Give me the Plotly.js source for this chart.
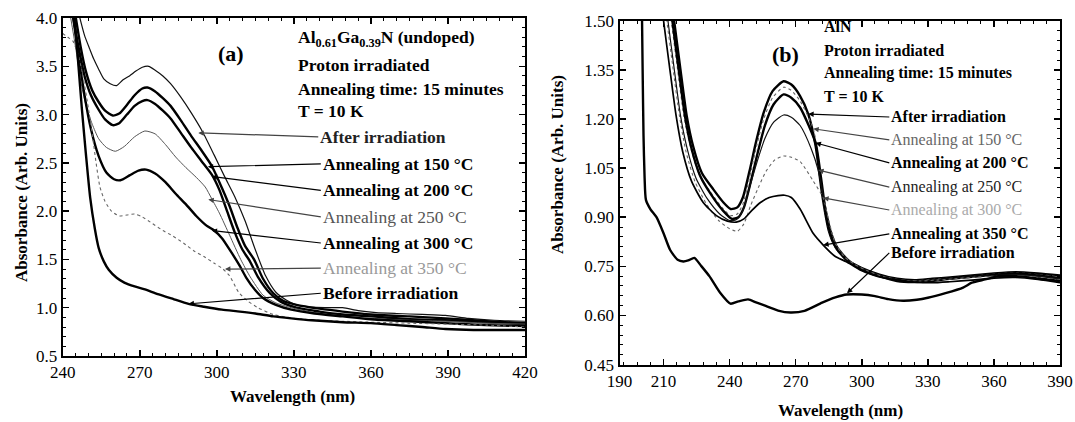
<!DOCTYPE html>
<html><head><meta charset="utf-8">
<script src="https://cdn.plot.ly/plotly-3.0.1.min.js"></script>
<style>body{margin:0;background:#fff}#chart{width:1075px;height:422px}</style>
</head><body><div id="chart"></div>
<script>
// ---------- Panel (a): Al0.61Ga0.39N ----------
const aAfterX = [246.5,248.5,250.5,252,254,256,258.5,261,263.5,266,268.5,271,273.5,276,279,282,286,290,294.5,299,303,307,311,315,319,323,327,331,336,342,349,355,362,370,380,389,398,408,420];
const aAfterY = [4.02,3.82,3.68,3.58,3.47,3.37,3.32,3.30,3.36,3.40,3.45,3.49,3.50,3.46,3.40,3.32,3.18,3.02,2.82,2.58,2.36,2.15,1.90,1.60,1.33,1.16,1.08,1.03,1.01,1.00,1.00,0.97,0.95,0.94,0.93,0.92,0.89,0.87,0.86];
const a150X = [245,247,249,251.5,254,256.5,259.5,262,265,268,271,273,276,279,282,286,290,294,298,302,305,308,311,314.5,318,322,326,331,340,349,360,375,389,405,420];
const a150Y = [4.02,3.70,3.45,3.25,3.13,3.04,2.99,3.01,3.10,3.20,3.27,3.28,3.24,3.17,3.09,2.94,2.78,2.63,2.47,2.24,2.05,1.83,1.64,1.50,1.30,1.15,1.07,1.03,0.99,0.96,0.93,0.91,0.89,0.86,0.84];
const a200X = [244,246,248.5,251,254,256.5,259.5,262,265,268,271,273,276,279,282,286,290,294,298,301,304,307,310,312.7,316,320.7,325,331,340,349,360,375,389,405,420];
const a200Y = [4.02,3.72,3.40,3.20,3.05,2.95,2.89,2.91,3.00,3.09,3.14,3.15,3.11,3.04,2.96,2.81,2.66,2.52,2.38,2.22,2.00,1.78,1.60,1.49,1.32,1.15,1.06,1.00,0.96,0.93,0.91,0.88,0.87,0.85,0.83];
const a250X = [243,245,247,249,251.5,254,257,260.5,264,268,272,276,280,284,288,292,295.5,298,301,305,309.3,313,318,323,329,338,349,360,375,389,405,420];
const a250Y = [4.02,3.70,3.35,3.10,2.90,2.75,2.66,2.62,2.67,2.77,2.83,2.80,2.69,2.56,2.45,2.35,2.25,2.13,1.98,1.75,1.50,1.32,1.13,1.05,1.00,0.95,0.91,0.89,0.87,0.86,0.84,0.83];
const a300X = [244,246,248.5,251,254,257,260,262.5,266,269.5,272.5,276,280,284,288,292,296,299,302,306,309,311.5,315,318,323,329,338,349,360,375,389,405,420];
const a300Y = [4.02,3.65,3.20,2.85,2.57,2.40,2.33,2.32,2.37,2.42,2.43,2.39,2.30,2.18,2.07,1.95,1.85,1.80,1.72,1.56,1.43,1.31,1.18,1.10,1.03,0.98,0.94,0.91,0.88,0.86,0.84,0.82,0.81];
const a350X = [240,242,244,246,247.5,249.5,251.5,253,254.5,256.5,259,262,265,268,271,275,279,283,287,291,295,299,302,305,308.5,312,316,322,330,340,349,360,375,390,405,420];
const a350Y = [3.84,3.80,3.76,3.62,3.45,3.15,2.80,2.50,2.25,2.10,2.00,1.95,1.96,1.97,1.94,1.87,1.80,1.74,1.67,1.59,1.53,1.46,1.41,1.33,1.16,1.07,1.00,0.93,0.89,0.87,0.86,0.85,0.84,0.83,0.82,0.80];
const aBeforeX = [244.5,246,247.5,249,250.7,252.5,254,256,258,261,264,268,272,277,282,289,295,302,309,315,322,329,337,349,360,370,380,389,400,410,420];
const aBeforeY = [4.02,3.55,3.05,2.60,2.14,1.82,1.62,1.48,1.39,1.31,1.26,1.22,1.19,1.14,1.10,1.04,1.01,0.98,0.96,0.94,0.91,0.89,0.87,0.85,0.84,0.82,0.80,0.78,0.77,0.77,0.77];

// ---------- Panel (b): AlN ----------
const bAfterX = [213.8,214.8,217.5,220.5,223.5,227.4,232.6,237.2,240.5,243.5,246,249,252,255.5,259.5,264.5,268,272,275.7,279,282,285,288,293,300,308,316,324,332,340,350,360,370,380,390];
const bAfterY = [1.56,1.50,1.36,1.21,1.115,1.035,0.985,0.945,0.925,0.93,0.96,1.04,1.13,1.22,1.285,1.315,1.305,1.27,1.215,1.12,0.97,0.86,0.81,0.77,0.745,0.725,0.712,0.708,0.712,0.716,0.722,0.728,0.732,0.728,0.722];
const b150X = [212.5,213.5,216.2,219.2,222.2,226.2,231.5,236.5,240.5,243.5,246,249,252,255.5,259.5,264.5,268,272,278,280.5,283,285.5,288,293,300,308,316,324,332,340,350,360,370,380,390];
const b150Y = [1.56,1.50,1.36,1.21,1.115,1.03,0.975,0.93,0.905,0.91,0.94,1.02,1.11,1.20,1.265,1.297,1.287,1.255,1.17,1.07,0.93,0.85,0.805,0.77,0.742,0.722,0.71,0.706,0.71,0.714,0.72,0.726,0.73,0.725,0.718];
const b200X = [213,214,216.7,219.7,222.7,226.7,232,237,241,244,246.5,249.5,252.5,256,260,264.5,268,272,279,281.5,284,286.5,289,294,300,308,316,324,332,340,350,360,370,380,390];
const b200Y = [1.56,1.50,1.36,1.21,1.11,1.025,0.965,0.92,0.895,0.90,0.93,1.005,1.09,1.18,1.245,1.275,1.265,1.235,1.127,1.02,0.90,0.835,0.80,0.765,0.74,0.72,0.705,0.702,0.706,0.712,0.718,0.724,0.728,0.722,0.714];
const b250X = [211,212,214.7,217.7,220.7,224.7,230,235.5,240,243,246,249,252.5,256,260,264.5,268,272,277,280.2,283,286,289,294,300,308,316,324,332,340,350,360,370,380,390];
const b250Y = [1.56,1.50,1.36,1.21,1.11,1.02,0.955,0.91,0.89,0.892,0.92,0.99,1.07,1.14,1.19,1.212,1.205,1.18,1.11,1.044,0.95,0.86,0.81,0.77,0.745,0.724,0.71,0.705,0.708,0.712,0.718,0.722,0.725,0.72,0.712];
const b300X = [210.5,211.5,214.2,217.2,220.2,224.2,229.5,235,240,243.5,246.5,249.5,253,256.5,260.5,264.5,268,272,278,282.5,285,288,292,297,303,310,318,326,334,342,350,360,370,380,390];
const b300Y = [1.56,1.50,1.36,1.21,1.10,1.01,0.94,0.89,0.865,0.857,0.88,0.935,0.99,1.04,1.075,1.087,1.083,1.07,1.01,0.959,0.89,0.82,0.78,0.755,0.735,0.718,0.708,0.705,0.708,0.712,0.716,0.72,0.722,0.716,0.708];
const b350X = [209,210,212.7,215.7,218.7,222.7,228,234,239,243,246.5,250,254,258,262,265,268,272,278,282.5,288,293,299,305,310,316,324,332,340,350,360,370,380,390];
const b350Y = [1.56,1.50,1.36,1.21,1.10,1.01,0.945,0.905,0.888,0.885,0.895,0.92,0.945,0.96,0.966,0.967,0.96,0.925,0.85,0.815,0.78,0.764,0.74,0.724,0.715,0.709,0.702,0.70,0.703,0.708,0.714,0.716,0.71,0.70];
const bBeforeX = [200.2,200.5,200.9,201.4,202,204,206.8,210,213,216.4,219,221.2,224,227,230.8,235.6,240.4,244,248.4,252,256.4,262,267.6,274,282,288,293.2,300,306,312,318.8,325,330,338,346,350,356,362,370,380,390];
const bBeforeY = [1.52,1.35,1.15,1.02,0.953,0.925,0.90,0.851,0.80,0.77,0.765,0.768,0.776,0.752,0.72,0.67,0.636,0.643,0.649,0.640,0.629,0.615,0.609,0.614,0.639,0.655,0.664,0.664,0.659,0.650,0.645,0.648,0.654,0.668,0.685,0.70,0.71,0.72,0.72,0.713,0.705];

const seriesLabels = ['After irradiation','Annealing at 150 °C','Annealing at 200 °C','Annealing at 250 °C','Annealing at 300 °C','Annealing at 350 °C','Before irradiation'];
const xTicksA = [240,270,300,330,360,390,420];
const xTicksB = [190,210,240,270,300,330,360,390];

const FONT = 'Liberation Serif, Times New Roman, serif';
const thick = {color:'#000', width:2.4};
const thin = {color:'#111', width:1.2};
const grayDot = {color:'#666', width:1.1, dash:'dot'};
const grayThin = {color:'#555', width:1.0};
const medium = {color:'#000', width:1.7};

function tr(x, y, line, xa, ya, name) {
  return {x:x, y:y, type:'scatter', mode:'lines', line:Object.assign({shape:'spline', smoothing:0.6}, line), xaxis:xa, yaxis:ya, name:name, hoverinfo:'skip'};
}
const data = [
  tr(aAfterX, aAfterY, thin, 'x', 'y', seriesLabels[0]),
  tr(a150X, a150Y, thick, 'x', 'y', seriesLabels[1]),
  tr(a200X, a200Y, thick, 'x', 'y', seriesLabels[2]),
  tr(a250X, a250Y, grayThin, 'x', 'y', seriesLabels[3]),
  tr(a300X, a300Y, thick, 'x', 'y', seriesLabels[4]),
  tr(a350X, a350Y, grayDot, 'x', 'y', seriesLabels[5]),
  tr(aBeforeX, aBeforeY, thick, 'x', 'y', seriesLabels[6]),
  tr(bAfterX, bAfterY, thick, 'x2', 'y2', seriesLabels[0]),
  tr(b150X, b150Y, grayDot, 'x2', 'y2', seriesLabels[1]),
  tr(b200X, b200Y, thick, 'x2', 'y2', seriesLabels[2]),
  tr(b250X, b250Y, thin, 'x2', 'y2', seriesLabels[3]),
  tr(b300X, b300Y, grayDot, 'x2', 'y2', seriesLabels[4]),
  tr(b350X, b350Y, medium, 'x2', 'y2', seriesLabels[5]),
  tr(bBeforeX, bBeforeY, thick, 'x2', 'y2', seriesLabels[6])
];

function axisBase(extra) {
  return Object.assign({
    showline:true, linecolor:'#000', linewidth:2, mirror:'allticks',
    ticks:'inside', ticklen:6, tickwidth:1.5, tickcolor:'#000',
    showgrid:false, zeroline:false, automargin:false, fixedrange:true,
    tickfont:{family:FONT, size:17, color:'#000'}
  }, extra);
}
const W = 1075, H = 422;
const px = v => v / W, py = v => 1 - v / H;

const layout = {
  width:W, height:H, margin:{l:0, r:0, t:0, b:0},
  paper_bgcolor:'#fff', plot_bgcolor:'#fff', showlegend:false,
  font:{family:FONT, color:'#000'},
  xaxis: axisBase({domain:[px(62.7), px(525)], range:[240,420], anchor:'y', tickmode:'array', tickvals:xTicksA,
    minor:{ticks:'inside', ticklen:3, tickwidth:1, tickcolor:'#000', tick0:240, dtick:5}}),
  yaxis: axisBase({domain:[py(356), py(18)], range:[0.5,4.0], anchor:'x', tick0:0.5, dtick:0.5, tickformat:'.1f',
    minor:{ticks:'inside', ticklen:3, tickwidth:1, tickcolor:'#000', tick0:0.5, dtick:0.1}}),
  xaxis2: axisBase({domain:[px(619.5), px(1060)], range:[190,390], anchor:'y2', tickmode:'array', tickvals:xTicksB,
    minor:{ticks:'inside', ticklen:3, tickwidth:1, tickcolor:'#000', tick0:210, dtick:6}}),
  yaxis2: axisBase({domain:[py(364.6), py(20.7)], range:[0.45,1.5], anchor:'x2', tick0:0.45, dtick:0.15, tickformat:'.2f',
    minor:{ticks:'inside', ticklen:3, tickwidth:1, tickcolor:'#000', tick0:0.45, dtick:0.03}}),
  annotations:[]
};

const ann = layout.annotations;
function ptext(text, x, y, size, opts) {
  ann.push(Object.assign({text:text, xref:'paper', yref:'paper', x:px(x), y:py(y), showarrow:false,
    xanchor:'left', yanchor:'middle', font:{family:FONT, size:size, color:'#000'}}, opts || {}));
}
// axis titles
ptext('<b>Wavelength (nm)</b>', 292, 396, 17, {xanchor:'center'});
ptext('<b>Wavelength (nm)</b>', 840, 410, 17, {xanchor:'center'});
ptext('<b>Absorbance (Arb. Units)</b>', 21, 193, 17, {xanchor:'center', textangle:-90});
ptext('<b>Absorbance (Arb. Units)</b>', 557, 165, 17, {xanchor:'center', textangle:-90});
// headers
ptext('<b>(a)</b>', 231, 53, 22, {xanchor:'center'});
ptext('<b>Al<sub>0.61</sub>Ga<sub>0.39</sub>N (undoped)</b>', 296, 38, 17.5);
ptext('<b>Proton irradiated</b>', 296, 65, 17.5);
ptext('<b>Annealing time: 15 minutes</b>', 296, 89, 17.5);
ptext('<b>T = 10 K</b>', 296, 111, 17.5);
ptext('<b>(b)</b>', 785, 55, 22, {xanchor:'center'});
ptext('<b>AlN</b>', 822, 27, 16);
ptext('<b>Proton irradiated</b>', 822, 50, 16);
ptext('<b>Annealing time: 15 minutes</b>', 822, 73, 16);
ptext('<b>T = 10 K</b>', 822, 96, 16);

// leader labels
function lab(i, hx, hy, tx, ty, xr, yr, color, bold, size) {
  const t = bold ? '<b>' + seriesLabels[i] + '</b>' : seriesLabels[i];
  ann.push({text:t, x:hx, y:hy, ax:tx, ay:ty, xref:xr, yref:yr, axref:xr, ayref:yr,
    showarrow:true, arrowhead:2, arrowsize:0.9, arrowwidth:1.2, arrowcolor:color === '#000' ? '#000' : '#444',
    xanchor:'left', yanchor:'middle', font:{family:FONT, size:size, color:color}});
}
lab(0, 292.8, 2.81, 339.5, 2.77, 'x', 'y', '#222', true, 17.5);
lab(1, 296.5, 2.46, 340.5, 2.49, 'x', 'y', '#000', true, 17.5);
lab(2, 298, 2.36, 340.5, 2.215, 'x', 'y', '#000', true, 17.5);
lab(3, 296.7, 2.12, 340.5, 1.94, 'x', 'y', '#555', false, 17.5);
lab(4, 298, 1.80, 340.5, 1.67, 'x', 'y', '#000', true, 17.5);
lab(5, 303.2, 1.40, 340.5, 1.41, 'x', 'y', '#999', false, 17.5);
lab(6, 289, 1.04, 340.5, 1.15, 'x', 'y', '#000', true, 17.5);

lab(0, 275.7, 1.215, 312.5, 1.206, 'x2', 'y2', '#000', true, 16);
lab(1, 278, 1.17, 312.5, 1.136, 'x2', 'y2', '#666', false, 16);
lab(2, 279, 1.127, 312.5, 1.066, 'x2', 'y2', '#000', true, 16);
lab(3, 280.2, 1.044, 312.5, 0.992, 'x2', 'y2', '#222', false, 16);
lab(4, 282.5, 0.959, 312.5, 0.922, 'x2', 'y2', '#aaa', false, 16);
lab(5, 282.5, 0.815, 312.5, 0.849, 'x2', 'y2', '#000', true, 16);
lab(6, 293.3, 0.668, 312.5, 0.791, 'x2', 'y2', '#000', true, 16);

Plotly.newPlot('chart', data, layout, {staticPlot:true, displayModeBar:false});
</script></body></html>
